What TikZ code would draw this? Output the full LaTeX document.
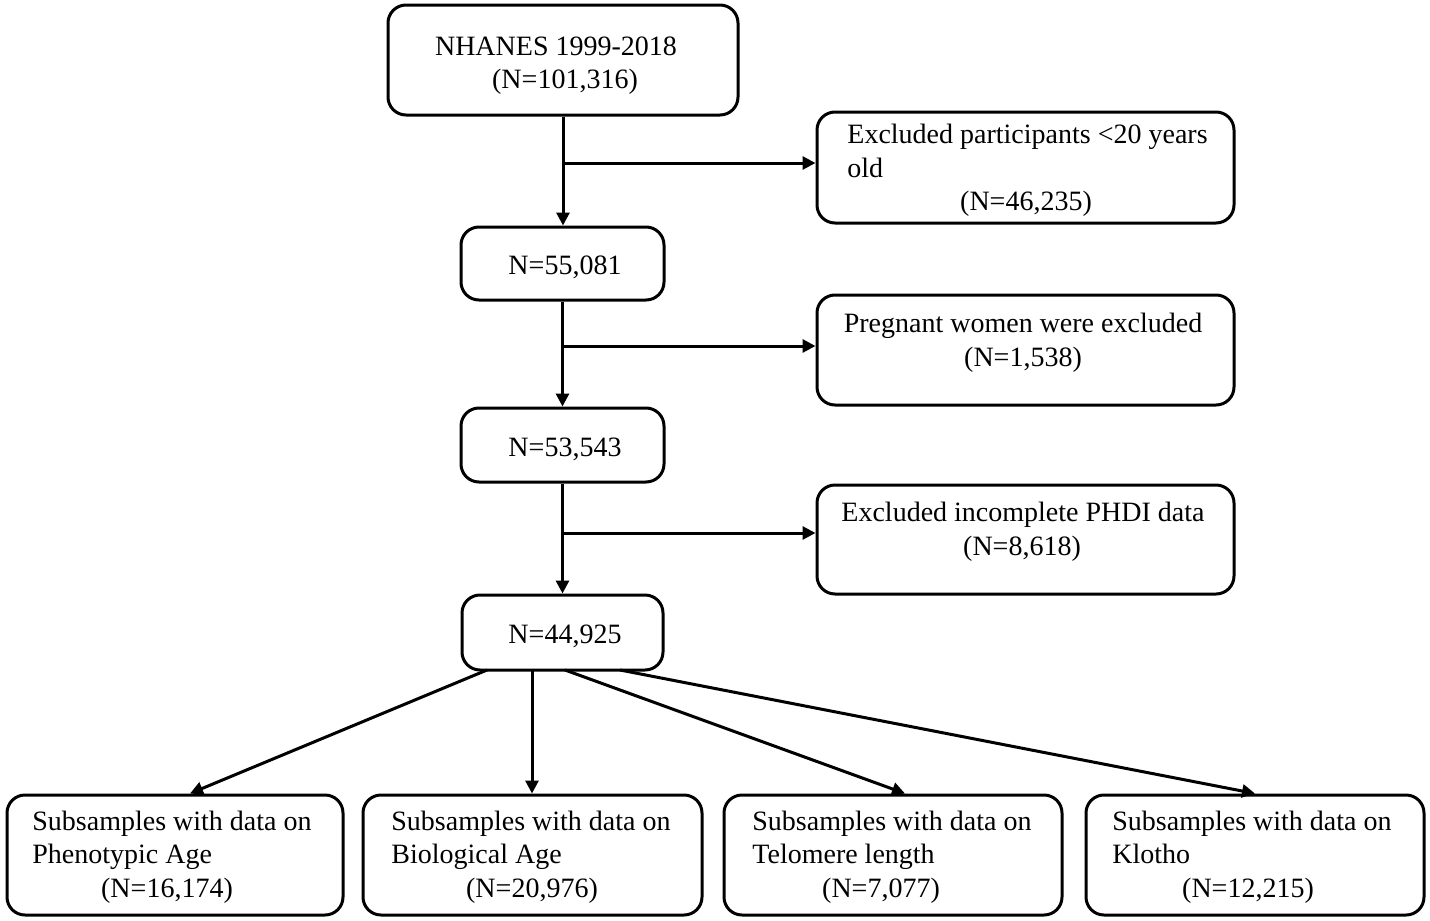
\documentclass[tikz,border=0pt]{standalone}
\usepackage{fontspec}
\setmainfont{Liberation Serif}
\usetikzlibrary{arrows.meta}
\begin{document}
\begin{tikzpicture}[x=0.5pt,y=-0.5pt,
  font=\fontsize{14}{17}\selectfont,
  box/.style={draw, line width=1.5pt, rounded corners=9pt, inner sep=0pt},
  arr/.style={line width=1.5pt, -{Triangle[length=6.5pt,width=6.5pt]}},
  txt/.style={inner sep=0pt}]
\useasboundingbox (0,0) rectangle (1430,921);
% boxes
\node[box, minimum width=175pt, minimum height=55pt] (top) at (563,60) {};
\node[box, minimum width=208.5pt, minimum height=55.5pt] (e1) at (1025.5,167.5) {};
\node[box, minimum width=101.5pt, minimum height=36.5pt] (n1) at (562.5,263.5) {};
\node[box, minimum width=208.5pt, minimum height=55pt] (e2) at (1025.5,350) {};
\node[box, minimum width=101.5pt, minimum height=37pt] (n2) at (562.5,445) {};
\node[box, minimum width=208.5pt, minimum height=54.5pt] (e3) at (1025.5,539.5) {};
\node[box, minimum width=100.5pt, minimum height=37.5pt] (n3) at (562.5,632.5) {};
\node[box, minimum width=168pt, minimum height=60pt] (b1) at (175,855) {};
\node[box, minimum width=169.5pt, minimum height=60pt] (b2) at (532.5,855) {};
\node[box, minimum width=169pt, minimum height=60pt] (b3) at (893,855) {};
\node[box, minimum width=169pt, minimum height=60pt] (b4) at (1255,855) {};
% texts
\node[txt, anchor=base] (tt1) at (556,55) {NHANES 1999-2018};
\node[txt, anchor=base] (tt2) at (565,88) {(N=101,316)};
\node[txt, anchor=base west] (e1t1) at (847,143) {Excluded participants <20 years};
\node[txt, anchor=base west] (e1t2) at (847,177) {old};
\node[txt, anchor=base] (e1t3) at (1026,210) {(N=46,235)};
\node[txt, anchor=base] (n1t) at (565,274) {N=55,081};
\node[txt, anchor=base] (e2t1) at (1023,332) {Pregnant women were excluded};
\node[txt, anchor=base] (e2t2) at (1023,366) {(N=1,538)};
\node[txt, anchor=base] (n2t) at (565,456) {N=53,543};
\node[txt, anchor=base] (e3t1) at (1023,521) {Excluded incomplete PHDI data};
\node[txt, anchor=base] (e3t2) at (1022,555) {(N=8,618)};
\node[txt, anchor=base] (n3t) at (565,643) {N=44,925};
\node[txt, anchor=base west] (b1t1) at (32,830) {Subsamples with data on};
\node[txt, anchor=base west] (b1t2) at (32,863) {Phenotypic Age};
\node[txt, anchor=base] (b1t3) at (167,897) {(N=16,174)};
\node[txt, anchor=base west] (b2t1) at (391,830) {Subsamples with data on};
\node[txt, anchor=base west] (b2t2) at (391,863) {Biological Age};
\node[txt, anchor=base] (b2t3) at (532,897) {(N=20,976)};
\node[txt, anchor=base west] (b3t1) at (752,830) {Subsamples with data on};
\node[txt, anchor=base west] (b3t2) at (752,863) {Telomere length};
\node[txt, anchor=base] (b3t3) at (881,897) {(N=7,077)};
\node[txt, anchor=base west] (b4t1) at (1112,830) {Subsamples with data on};
\node[txt, anchor=base west] (b4t2) at (1112,863) {Klotho};
\node[txt, anchor=base] (b4t3) at (1248,897) {(N=12,215)};
% connectors
\draw[arr] (top.south) -- (top.south |- n1.north);
\draw[arr] (n1.south) -- (n1.south |- n2.north);
\draw[arr] (n2.south) -- (n2.south |- n3.north);
\coordinate (j1) at (563,163);
\coordinate (j2) at (563,346);
\coordinate (j3) at (563,533);
\draw[arr] (j1) -- (j1 -| e1.west);
\draw[arr] (j2) -- (j2 -| e2.west);
\draw[arr] (j3) -- (j3 -| e3.west);
\coordinate (s1) at (487,670);
\coordinate (s2) at (532,670);
\coordinate (s3) at (565,670);
\coordinate (s4) at (620,670);
\draw[arr] (s1) -- ([xshift=7.5pt]b1.north);
\draw[arr] (s2) -- (s2 |- b2.north);
\draw[arr] (s3) -- ([xshift=6pt]b3.north);
\draw[arr] (s4) -- (b4.north);
\end{tikzpicture}
\end{document}
